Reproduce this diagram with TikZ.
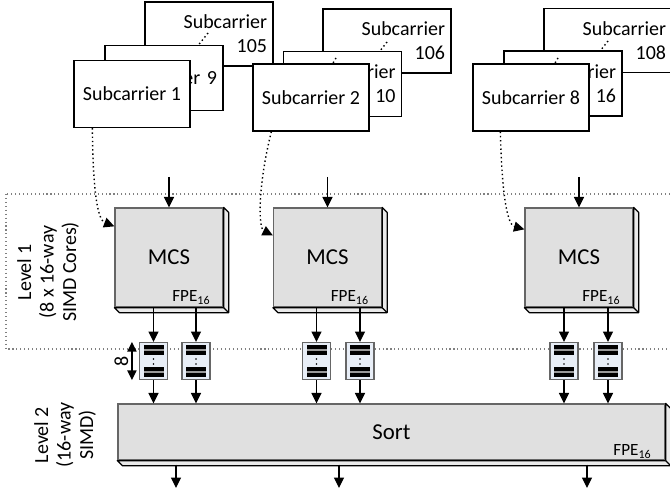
\documentclass[tikz,border=0pt]{standalone}
\usepackage{fontspec}
\setmainfont{Carlito}
\usetikzlibrary{positioning,calc,arrows.meta}
\definecolor{corefill}{HTML}{E0E0E0}
\definecolor{slabfill}{HTML}{EAEAEA}
\definecolor{buffill}{HTML}{E8EEF7}
\newcommand\carrierfont{\fontsize{14.2}{17}\selectfont}
\newcommand\blockfont{\fontsize{16.2}{18}\selectfont}
\newcommand\tagfont{\fontsize{12.2}{13}\selectfont}
\newcommand\levelfont{\fontsize{14.2}{16}\selectfont}
\tikzset{
  wire/.style    = {line width=0.9pt, -{Triangle[length=2.6mm,width=2.5mm]}},
  dwire/.style   = {line width=0.9pt, {Triangle[length=2.4mm,width=2.3mm]}-{Triangle[length=2.4mm,width=2.3mm]}},
  swire/.style   = {line width=1pt, dotted, -{Triangle[length=2.6mm,width=2.5mm]}},
  sdots/.style   = {line width=1pt, dotted},
  scbox/.style   = {draw, fill=white, line width=0.9pt, inner ysep=0pt, font=\carrierfont},
  scback/.style  = {scbox, minimum width=3.2cm, minimum height=1.6cm,
                    text width=2.9cm, inner xsep=0.15cm, align=right},
  scmid/.style   = {scbox, minimum width=2.95cm, minimum height=1.625cm,
                    text width=2.65cm, inner xsep=0.15cm, align=right},
  scfront/.style = {scbox, minimum width=2.9cm, minimum height=1.675cm, align=center},
  core/.style    = {draw=black!60, fill=corefill, line width=0.9pt, font=\blockfont,
                    minimum width=2.7cm, minimum height=2.475cm},
  slab/.style    = {draw, fill=slabfill, line width=0.9pt, line join=round},
  fpe/.style     = {font=\tagfont, inner sep=0pt},
  bufbox/.style  = {draw=black!60, fill=buffill, line width=0.8pt,
                    minimum width=0.7cm, minimum height=0.925cm, inner sep=0pt},
  lvlbox/.style  = {draw=black!50, dotted, line width=0.8pt},
  lvl/.style     = {rotate=90, align=center, font=\levelfont, inner sep=0pt},
}
\begin{document}
\begin{tikzpicture}[x=0.025cm,y=-0.025cm]
  \useasboundingbox (0,0) rectangle (670,492);
  \clip (0,0) rectangle (670,492);
  % level 1 frame
  \draw[lvlbox] (6,194) rectangle (675,349);
  \node[lvl] (lv1) at (48,272) {Level 1\\(8 x 16-way\\SIMD Cores)};
  \node[lvl] (lv2) at (65,435) {Level 2\\(16-way\\SIMD)};

  % subcarrier stacks, back to front
  \node[scback] (sc105) at (209,34) {Subcarrier\\105};
  \draw[sdots] (208,33) -- (185,62);
  \node[scmid] (sc9) at (164,78) {Subcarrier 9};
  \node[scfront] (sc1) at (132,94) {Subcarrier 1};

  \node[scback] (sc106) at (387,41) {Subcarrier\\106};
  \draw[sdots] (387,42) -- (365,70);
  \node[scmid] (sc10) at (342.5,84) {Subcarrier\\10};
  \draw[sdots] (336,58) -- (320,85);
  \node[scfront] (sc2) at (311,97.5) {Subcarrier 2};

  \node[scback] (sc108) at (608,40.5) {Subcarrier\\108};
  \draw[sdots] (608,41) -- (585,70);
  \node[scmid] (sc16) at (563,83.5) {Subcarrier\\16};
  \draw[sdots] (558,58) -- (542,85);
  \node[scfront] (sc8) at (531,97.5) {Subcarrier 8};

  % MCS cores and sort
  \node[core] (m1) at (169,257.5) {MCS};
  \node[core] (m2) at (327.5,257.5) {MCS};
  \node[core] (m3) at (579,257.5) {MCS};
  \node[core, minimum width=13.675cm, minimum height=1.4cm] (sort) at (391.5,432) {Sort};
  \foreach \m in {m1,m2,m3,sort}{
    \draw[slab] (\m.north east) -- ++(5,5) -- ($(\m.south east)+(5,5)$)
      -- ($(\m.south west)+(5,5)$) -- (\m.south west) -- (\m.south east) -- cycle;
    \draw[slab] (\m.south east) -- ++(5,5);
  }
  \foreach \m in {m1,m2,m3}
    \node[fpe, anchor=base east] (f\m) at ($(\m.south east)+(-13,-6)$) {FPE\textsubscript{16}};
  \node[fpe, anchor=base east] (fsort) at ($(sort.south east)+(-14,-5)$) {FPE\textsubscript{16}};

  % inputs
  \coordinate (in1) at (169,177);
  \coordinate (in2) at (327.5,177);
  \coordinate (in3) at (579,177);
  \foreach \i/\m in {in1/m1,in2/m2,in3/m3}
    \draw[wire] (\i) -- (\m.north);
  \draw[swire] ($(sc1.south west)+(19,0)$) .. controls (93,195) and (98,220) .. ($(m1.north west)+(0,19)$);
  \draw[swire] ($(sc2.south west)+(19,0)$) .. controls (258,185) and (258,228) .. ($(m2.north west)+(0,28)$);
  \draw[swire] ($(sc8.south west)+(28,0)$) .. controls (502,200) and (508,225) .. ($(m3.north west)+(0,22)$);

  % buffers between the levels
  \foreach \b/\x in {buf1/153.5,buf2/196,buf3/316.5,buf4/360,buf5/564,buf6/608}{
    \node[bufbox] (\b) at (\x,361) {};
    \fill[black!40] (\x-10,345) rectangle (\x+10,355);
    \fill (\x-10,345) rectangle (\x+10,348.7);
    \fill (\x-10,351.3) rectangle (\x+10,355);
    \fill[black!40] (\x-10,367) rectangle (\x+10,377);
    \fill (\x-10,367) rectangle (\x+10,370.7);
    \fill (\x-10,373.3) rectangle (\x+10,377);
    \fill (\x,359) circle[radius=0.9];
    \fill (\x,364) circle[radius=0.9];
  }
  \foreach \q/\m in {buf1/m1,buf2/m1,buf3/m2,buf4/m2,buf5/m3,buf6/m3}{
    \draw[wire] (\m.south -| \q) -- (\q.north);
    \draw[wire] (\q.south) -- (\q.south |- sort.north);
  }
  \draw[dwire] ($(buf1.north west)+(-7,0)$) -- ($(buf1.south west)+(-7,0)$);
  \node[lvl] (depth) at (121.5,361) {8};

  % outputs
  \coordinate (out1) at (176,488);
  \coordinate (out2) at (339,488);
  \coordinate (out3) at (587,488);
  \foreach \o in {out1,out2,out3}
    \draw[wire] ($(sort.south -| \o)+(0,4)$) -- (\o);
\end{tikzpicture}
\end{document}
